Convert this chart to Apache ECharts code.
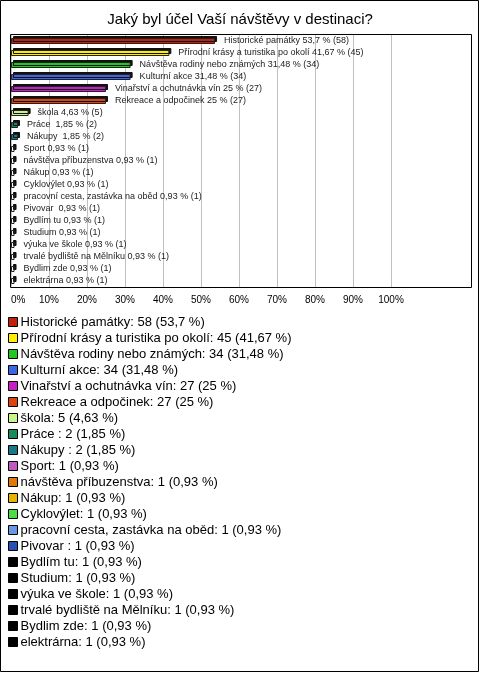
<!DOCTYPE html>
<html>
<head>
<meta charset="utf-8">
<script src="https://cdn.jsdelivr.net/npm/echarts@6/dist/echarts.min.js"></script>
<style>
html,body{margin:0;padding:0;background:#fff;}
#c{width:480px;height:673px;}
</style>
</head>
<body>
<div id="c"></div>
<script>
const titleText = 'Jaký byl účel Vaší návštěvy v destinaci?';
const categories = ['Historické památky','Přírodní krásy a turistika po okolí','Návštěva rodiny nebo známých','Kulturní akce','Vinařství a ochutnávka vín','Rekreace a odpočinek','škola','Práce ','Nákupy ','Sport','návštěva příbuzenstva','Nákup','Cyklovýlet','pracovní cesta, zastávka na oběd','Pivovar ','Bydlím tu','Studium','výuka ve škole','trvalé bydliště na Mělníku','Bydlim zde','elektrárna'];
const counts = [58,45,34,34,27,27,5,2,2,1,1,1,1,1,1,1,1,1,1,1,1];
const percents = [53.7,41.67,31.48,31.48,25,25,4.63,1.85,1.85,0.93,0.93,0.93,0.93,0.93,0.93,0.93,0.93,0.93,0.93,0.93,0.93];
const percentText = ['53,7','41,67','31,48','31,48','25','25','4,63','1,85','1,85','0,93','0,93','0,93','0,93','0,93','0,93','0,93','0,93','0,93','0,93','0,93','0,93'];
const xTicks = [0,10,20,30,40,50,60,70,80,90,100];
const colors = ['#c41e0c','#ffee00','#1ec81e','#3c64e6','#c81ec8','#e0420e','#c8f48c','#168c5a','#167888','#c05ac0','#e0780a','#e6b400','#46e046','#6a96e6','#2a50b4','#000000','#000000','#000000','#000000','#000000','#000000'];

const chart = echarts.init(document.getElementById('c'), null, {renderer:'canvas'});

const barData = percents.map((v,i)=>({
  value: v,
  itemStyle: { color: counts[i] === 1 ? '#ffffff' : colors[i] }
}));

const legendSeries = categories.map((n,i)=>({
  name: n, type: 'line', data: [], color: colors[i], showSymbol:false
}));

const option = {
  animation: false,
  title: {
    text: titleText, left: 'center', top: 7,
    textStyle: { fontFamily: 'Liberation Sans, Arial', fontSize: 15, fontWeight: 'normal', color: '#000' }
  },
  grid: { left: 11, right: 89, top: 35, bottom: 386, containLabel: false },
  xAxis: {
    type: 'value', min: xTicks[0], max: xTicks[xTicks.length-1], interval: 10,
    axisLine: {show:false}, axisTick:{show:false},
    splitLine: { show: true, lineStyle: { color: '#c0c0c0', width: 1 } },
    axisLabel: { formatter: '{value}%', fontFamily: 'Liberation Sans, Arial', fontSize: 10, color: '#000', margin: 8, alignMinLabel: 'left' }
  },
  yAxis: {
    type: 'category', data: categories, inverse: true,
    axisLine:{show:false}, axisTick:{show:false}, axisLabel:{show:false}, splitLine:{show:false}
  },
  legend: {
    data: categories.map((n,i)=>({ name: n, icon: 'rect', itemStyle: { color: colors[i], borderColor: '#000', borderWidth: 1 } })),
    orient: 'vertical', left: 8, top: 314, padding: 0,
    itemWidth: 9, itemHeight: 9, itemGap: 0,
    selectedMode: false,
    textStyle: { fontFamily: 'Liberation Sans, Arial', fontSize: 13, color: '#000', lineHeight: 16, padding: [0,0,0,-2] },
    formatter: function(name){
      const i = categories.indexOf(name);
      return name + ': ' + counts[i] + ' (' + percentText[i] + ' %)';
    }
  },
  series: [{
    name: 'bars', type: 'bar', data: barData, barWidth: 6,
    itemStyle: { borderColor: '#222', borderWidth: 1, shadowColor: '#111', shadowOffsetX: 2, shadowOffsetY: -2, shadowBlur: 0 },
    label: {
      show: true, position: 'right', distance: 9,
      fontFamily: 'Liberation Sans, Arial', fontSize: 9, color: '#222',
      formatter: function(p){ return categories[p.dataIndex] + ' ' + percentText[p.dataIndex] + ' % (' + counts[p.dataIndex] + ')'; }
    }
  }].concat(legendSeries),
  graphic: [
    { type: 'rect', shape: { x: 0.5, y: 0.5, width: 478, height: 671 }, style: { fill: 'none', stroke: '#000', lineWidth: 1 }, silent: true, z: 100 },
    { type: 'rect', shape: { x: 10.5, y: 34.5, width: 461, height: 253 }, style: { fill: 'none', stroke: '#000', lineWidth: 1 }, silent: true, z: 100 }
  ]
};
chart.setOption(option);
</script>
</body>
</html>
